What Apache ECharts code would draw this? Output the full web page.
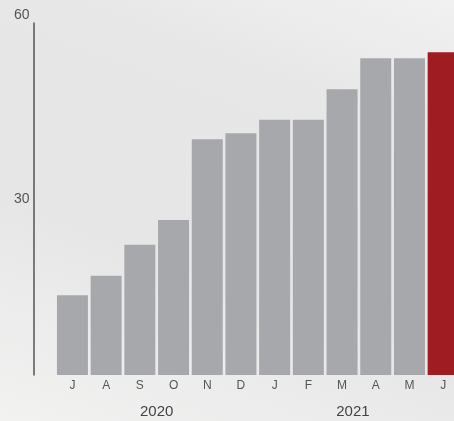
<!DOCTYPE html>
<html>
<head>
<meta charset="utf-8">
<script src="https://cdn.jsdelivr.net/npm/echarts@6/dist/echarts.min.js"></script>
<style>
  html, body { margin: 0; padding: 0; }
  body {
    width: 454px; height: 421px; overflow: hidden;
    background: linear-gradient(200deg, #f2f1f1 0%, #e8e7e8 25%, #e7e6e7 60%, #f2f2f1 100%);
  }
  #chart { width: 454px; height: 421px; }
</style>
</head>
<body>
<div id="chart"></div>
<script>
// 月份 + 数值
const months = ['J', 'A', 'S', 'O', 'N', 'D', 'J', 'F', 'M', 'A', 'M', 'J']
const values = [13.6, 16.9, 22.2, 26.4, 40.2, 41.2, 43.5, 43.5, 48.7, 54.0, 54.0, 55.0]
const years = ['2020', '2021']
const yLabels = [30, 60]
const highlightIndex = 11

const chart = echarts.init(document.getElementById('chart'))

const option = {
  animation: false,
  backgroundColor: 'transparent',
  textStyle: { fontFamily: 'Liberation Sans' },
  grid: { left: 55.6, right: -6, top: 23, bottom: 46, outerBoundsMode: 'none' },
  xAxis: [
    {
      type: 'category',
      data: months,
      axisLine: { show: false },
      axisTick: { show: false },
      axisLabel: { color: '#555', fontSize: 12, margin: 5 }
    },
    {
      type: 'category',
      data: years,
      position: 'bottom',
      axisLine: { show: false },
      axisTick: { show: false },
      // 2021 稍微靠左一点
      axisLabel: {
        color: '#444',
        fontSize: 15,
        margin: 29,
        formatter: (v, i) => i === 1 ? '{l|' + v + '}' : v,
        rich: { l: { fontSize: 15, color: '#444', padding: [0, 12, 0, 0] } }
      }
    }
  ],
  yAxis: {
    type: 'value',
    min: 0,
    max: 60,
    interval: 30,
    offset: 22,
    splitLine: { show: false },
    axisLine: { show: true, lineStyle: { color: '#555', width: 1.5 } },
    axisTick: { show: false },
    axisLabel: {
      color: '#555',
      fontSize: 14,
      margin: 4,
      formatter: v => {
        if (!yLabels.includes(v)) return ''
        return v === 60 ? '{top|' + v + '}' : String(v)
      },
      rich: { top: { fontSize: 14, color: '#555', padding: [0, 0, 16, 0] } }
    }
  },
  series: [{
    type: 'bar',
    xAxisIndex: 0,
    barCategoryGap: '8%',
    data: values.map((v, i) => ({
      value: v,
      itemStyle: { color: i === highlightIndex ? '#9e1c22' : '#a7a8ab' }
    }))
  }]
}
chart.setOption(option)
</script>
</body>
</html>
